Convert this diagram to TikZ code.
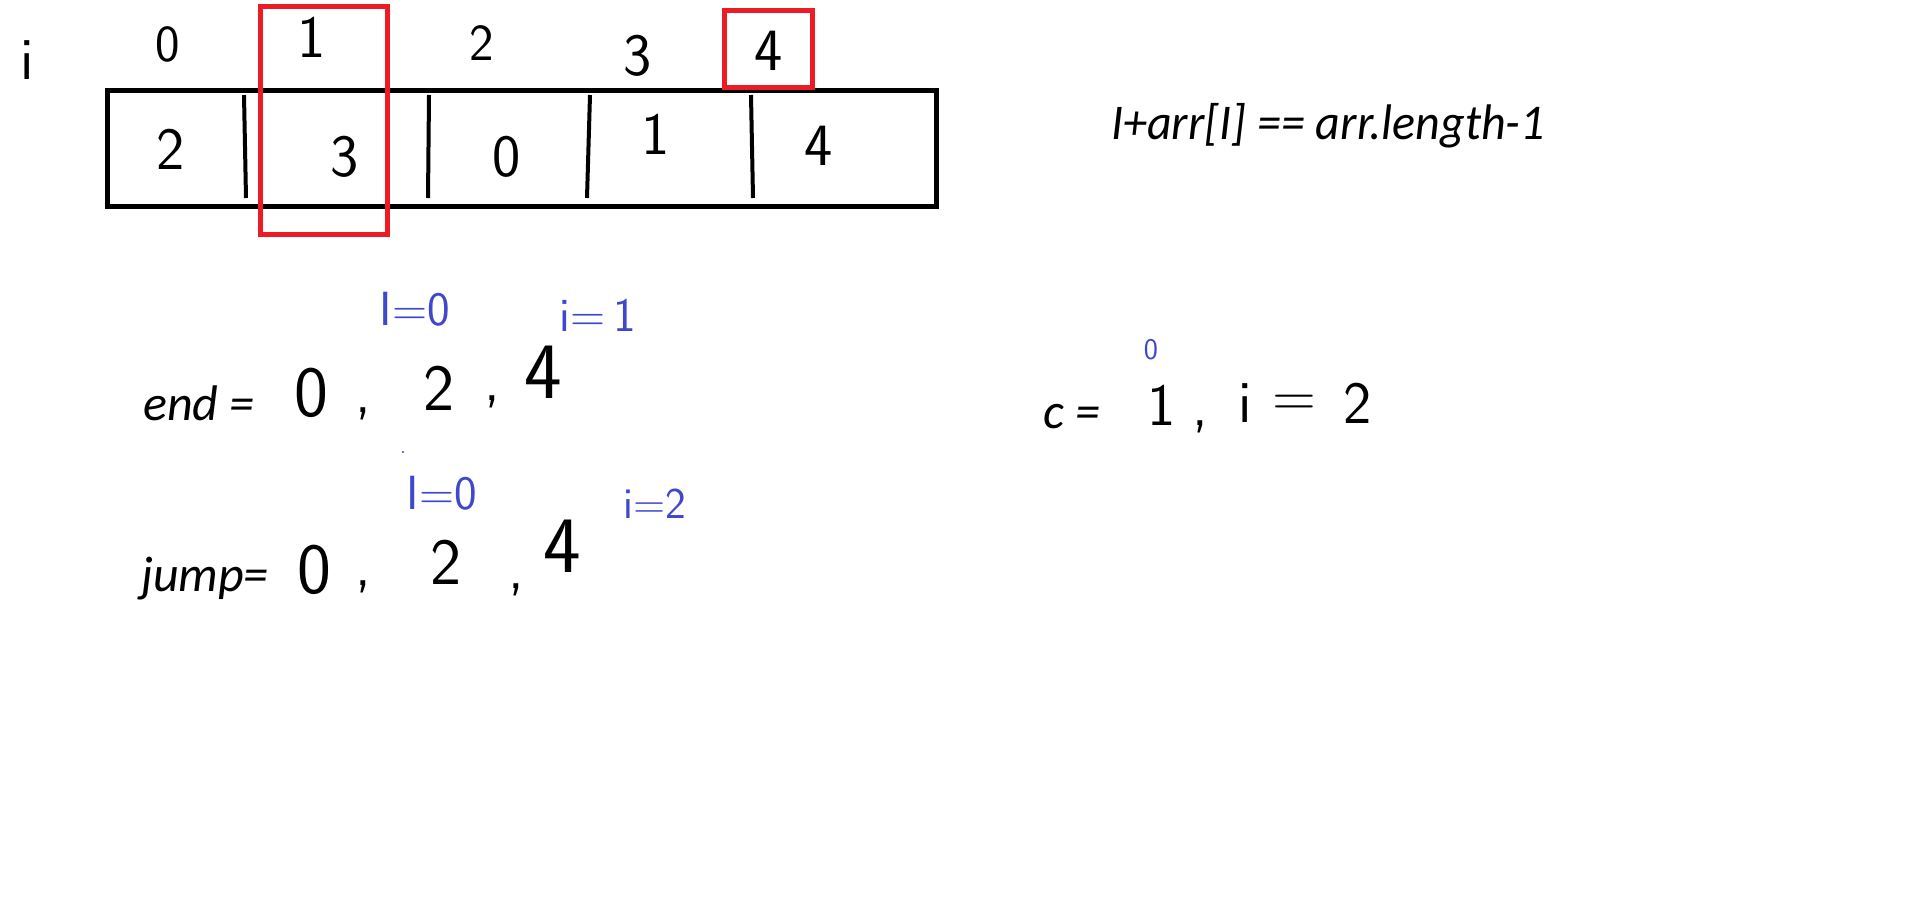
\documentclass[tikz,border=0pt]{standalone}
\usepackage{fontspec}
\newfontfamily\typed{Carlito}
\newcommand{\hw}[1]{\fontsize{#1}{#1}\selectfont\sffamily}
\definecolor{pred}{RGB}{237,28,36}
\definecolor{pblue}{RGB}{63,72,204}
\begin{document}
\begin{tikzpicture}[x=1pt,y=-1pt,
  hand/.style={inner sep=0pt,font=\hw{60}},
  handsm/.style={inner sep=0pt,font=\hw{52}},
  bluehand/.style={inner sep=0pt,text=pblue,font=\hw{48}},
  typedtxt/.style={inner sep=0pt,font=\fontsize{50}{50}\selectfont\typed\itshape},
  redbox/.style={draw=pred,line width=5pt},
  blackbox/.style={draw=black,line width=5pt},
  divider/.style={draw=black,line width=4pt}]
\useasboundingbox[fill=white] (0,0) rectangle (1914,902);

% array box and dividers
\draw[blackbox] (107,90) rectangle (936,206);
\draw[divider] (244,95) -- (246,198);
\draw[divider] (429,95) -- (428,198);
\draw[divider] (590,95) -- (587,198);
\draw[divider] (751,95) -- (753,198);

% index row
\node[hand] (ilbl) at (27,60) {i};
\node[handsm] (i0) at (168,44) {0};
\node[hand] (i1) at (312,37) {1};
\node[handsm] (i2) at (482,43) {2};
\node[hand] (i3) at (638,56) {3};
\node[hand] (i4) at (769,51) {4};

% cell values
\node[hand] (c0) at (171,149) {2};
\node[hand] (c1) at (345,157) {3};
\node[hand] (c2) at (507,157) {0};
\node[hand] (c3) at (656,134) {1};
\node[hand] (c4) at (819,146) {4};

% red highlight boxes
\draw[redbox] (260,6) rectangle (387,234);
\draw[redbox] (724,10) rectangle (812,87);

% condition
\node[typedtxt,xscale=0.96] (cond) at (1328,126) {I+arr[I] == arr.length-1};

% end row
\node[typedtxt] (endl) at (199,403) {end =};
\node[hand,font=\hw{72}] (e0) at (311,393) {0};
\node[hand] (ec1) at (363,414) {,};
\node[hand,font=\hw{66}] (e2) at (439,388) {2};
\node[hand] (ec2) at (492,402) {,};
\node[hand,font=\hw{80}] (e4) at (543,372) {4};
\node[bluehand] (eb1) at (415,309) {I=0};
\node[bluehand] (eb2) at (598,315) {i=\,1};

% jump row
\node[typedtxt] (jumpl) at (205,579) {jump=};
\node[hand,font=\hw{72}] (j0) at (314,570) {0};
\node[hand] (jc1) at (363,587) {,};
\node[hand,font=\hw{66}] (j2) at (446,562) {2};
\node[hand] (jc2) at (516,590) {,};
\node[hand,font=\hw{80}] (j4) at (562,546) {4};
\node[bluehand] (jb1) at (442,493) {I=0};
\node[bluehand,font=\hw{44}] (jb2) at (655,504) {i=2};
\fill[pblue] (403,452) circle (1.2pt);

% c row
\node[typedtxt] (cl) at (1072,417) {c =};
\node[bluehand,font=\hw{30}] (cb) at (1151,350) {0};
\node[hand] (c1v) at (1162,405) {1};
\node[hand] (cc) at (1200,427) {,};
\node[hand] (ci) at (1245,403) {i};
\node[hand] (ceq) at (1294,406) {=};
\node[hand] (c2v) at (1358,403) {2};
\end{tikzpicture}
\end{document}
